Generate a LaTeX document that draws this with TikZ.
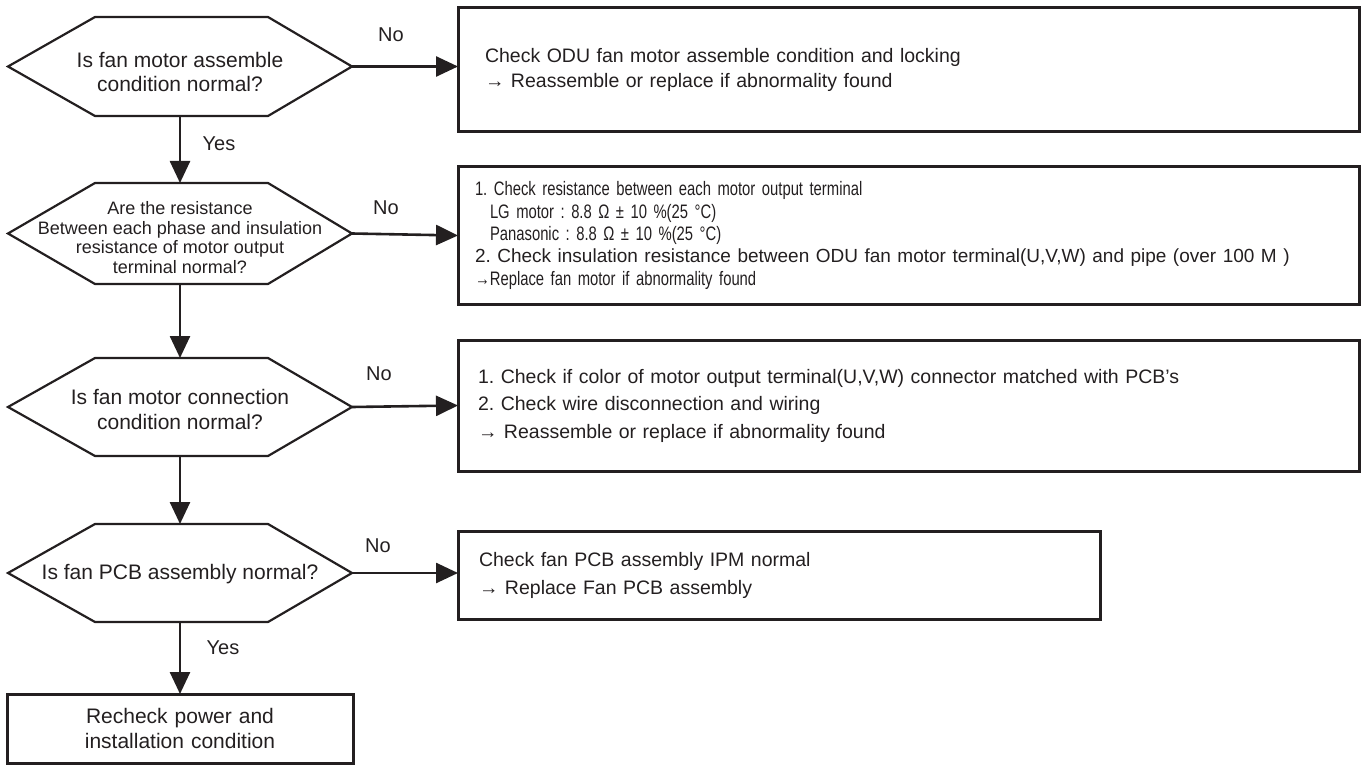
\documentclass[tikz,border=0pt]{standalone}
\usepackage{fontspec}
\setmainfont{Liberation Sans}
\newfontfamily\narrowfont[FakeStretch=0.76]{Liberation Sans}
\newfontfamily\regfont{Liberation Sans}
\usetikzlibrary{arrows.meta,calc}
\definecolor{ink}{HTML}{231F20}
\frenchspacing
\begin{document}
\begin{tikzpicture}[x=1pt,y=-1pt,
  execute at begin picture=\frenchspacing,
  hexnode/.style={minimum width=344pt, minimum height=99pt, inner sep=0pt, outer sep=0pt},
  hextext/.style={align=center, text=ink, inner sep=0pt},
  hexline/.style={draw=ink, line width=2.2pt, line join=miter},
  boxnode/.style={draw=ink, line width=3pt, align=left, text=ink, anchor=north west, inner ysep=0pt, outer sep=0pt},
  arr/.style={draw=ink, line width=2.6pt, -{Triangle[length=22pt,width=20pt]}},
  lbl/.style={text=ink, inner sep=0pt, font=\fontsize{20}{24}\selectfont}
]
\useasboundingbox (0,0) rectangle (1361,765);

% decision nodes
\node[hexnode, label={[hextext, yshift=-5pt, font=\fontsize{21}{24}\selectfont]center:{Is fan motor assemble\\condition normal?}}] (d1) at (180,66.5) {};
\node[hexnode, minimum height=101pt, label={[hextext, yshift=-4pt, font=\fontsize{18}{19.5}\selectfont]center:{Are the resistance\\Between each phase and insulation\\resistance of motor output\\terminal normal?}}] (d2) at (180,233.5) {};
\node[hexnode, minimum height=98pt, label={[hextext, yshift=-2.5pt, font=\fontsize{21}{24.5}\selectfont]center:{Is fan motor connection\\condition normal?}}] (d3) at (180,407) {};
\node[hexnode, minimum height=98pt, label={[hextext, yshift=-1.5pt, font=\fontsize{21}{24}\selectfont]center:{Is fan PCB assembly normal?}}] (d4) at (180,573) {};
\foreach \n in {d1,d2,d3,d4}{
  \draw[hexline] ($(\n.north west)+(87,0)$) -- ($(\n.north east)+(-84,0)$) -- (\n.east)
    -- ($(\n.south east)+(-84,0)$) -- ($(\n.south west)+(87,0)$) -- (\n.west) -- cycle;
}

% action boxes
\node[boxnode, minimum width=901pt, minimum height=124pt, inner xsep=27pt, text width=847pt,
  font=\fontsize{19.5}{25}\selectfont] (b1) at (458,8)
  {Check ODU fan motor assemble condition and locking\\→ Reassemble or replace if abnormality found};
\node[boxnode, minimum width=901pt, minimum height=137pt, inner xsep=17pt, text width=867pt,
  font=\narrowfont\fontsize{19.5}{22.3}\selectfont] (b2) at (458,167)
  {1. Check resistance between each motor output terminal\\
   \hspace*{15pt}LG motor : 8.8 Ω ± 10 \%(25 °C)\\
   \hspace*{15pt}Panasonic : 8.8 Ω ± 10 \%(25 °C)\\
   {\regfont\fontsize{19}{22.3}\selectfont 2. Check insulation resistance between ODU fan motor terminal(U,V,W) and pipe (over 100 M )}\\
   →Replace fan motor if abnormality found};
\node[boxnode, minimum width=901pt, minimum height=131pt, inner xsep=20pt, text width=861pt,
  font=\fontsize{19.5}{27.5}\selectfont] (b3) at (458,340)
  {1. Check if color of motor output terminal(U,V,W) connector matched with PCB’s\\
   2. Check wire disconnection and wiring\\
   → Reassemble or replace if abnormality found};
\node[boxnode, minimum width=642pt, minimum height=88pt, inner xsep=21pt, text width=600pt,
  font=\fontsize{19.5}{28}\selectfont] (b4) at (458,531)
  {Check fan PCB assembly IPM normal\\→ Replace Fan PCB assembly};
\node[boxnode, align=center, minimum width=346pt, minimum height=69pt, inner xsep=0pt, text width=346pt,
  font=\fontsize{21}{25}\selectfont] (b5) at (7,694)
  {Recheck power and\\installation condition};

% connectors
\draw[arr] (d1.east) -- (d1.east -| b1.west);
\draw[arr] (d2.east) -- (b2.west);
\draw[arr] (d3.east) -- (b3.west);
\draw[arr] (d4.east) -- (d4.east -| b4.west);
\draw[arr] (d1.south) -- (d2.north);
\draw[arr] (d2.south) -- (d3.north);
\draw[arr] (d3.south) -- (d4.north);
\draw[arr] (d4.south) -- (b5.north);

% labels
\node[lbl] (no1) at (391,35) {No};
\node[lbl] (no2) at (386,208) {No};
\node[lbl] (no3) at (379,374) {No};
\node[lbl] (no4) at (378,546) {No};
\node[lbl] (yes1) at (219,144) {Yes};
\node[lbl] (yes2) at (223,648) {Yes};
\end{tikzpicture}
\end{document}
